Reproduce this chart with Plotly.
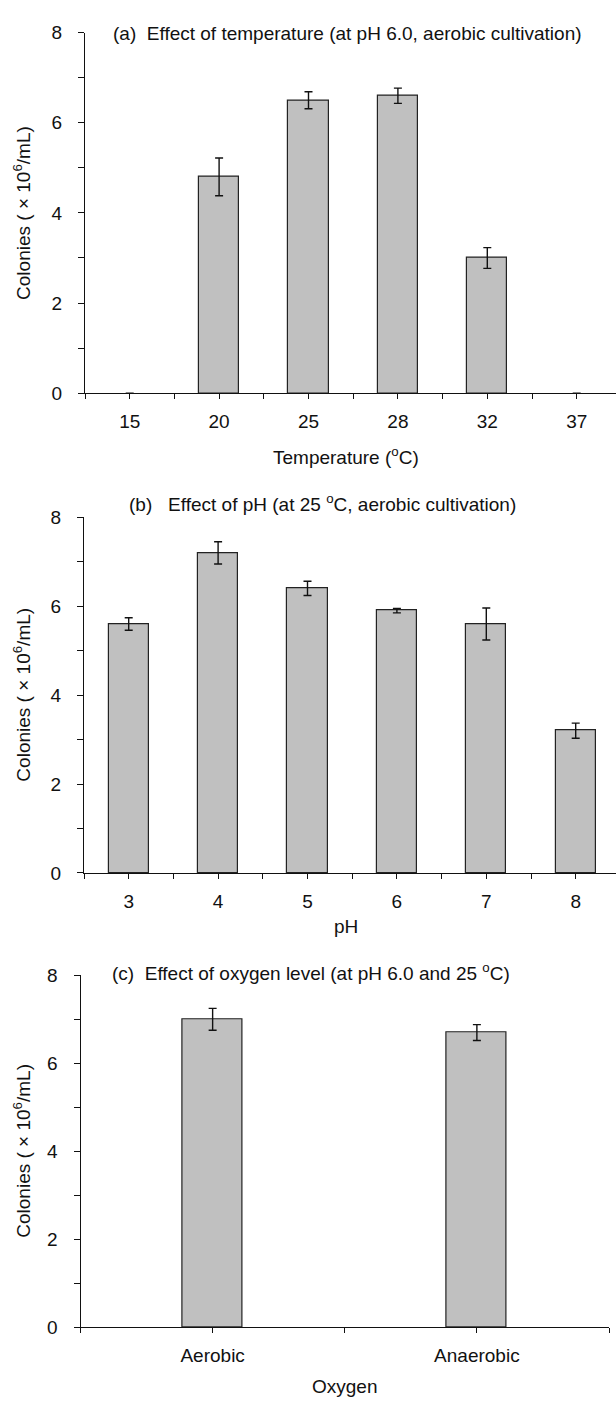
import plotly.graph_objects as go

# ---- data ----
temp_labels = ["15", "20", "25", "28", "32", "37"]
temp_values = [0, 4.8, 6.5, 6.6, 3.0, 0]
temp_errors = [0, 0.42, 0.19, 0.17, 0.23, 0]

ph_labels = ["3", "4", "5", "6", "7", "8"]
ph_values = [5.6, 7.2, 6.4, 5.9, 5.6, 3.2]
ph_errors = [0.14, 0.25, 0.16, 0.05, 0.36, 0.17]

oxy_labels = ["Aerobic", "Anaerobic"]
oxy_values = [7.0, 6.7]
oxy_errors = [0.25, 0.18]

y_ticks = [0, 1, 2, 3, 4, 5, 6, 7, 8]

W, H = 616, 1407
FONT = "Liberation Sans, Arial, sans-serif"
TICK_SIZE = 19
TITLE_SIZE = 19

# panel geometry in pixels: (x_left, x_right, y_zero, y_top, xmax)
panels = [
    dict(x0=85, x1=616, yb=389, yt=23, xmax=(616 - 85) / 89.4, bw=0.45),
    dict(x0=84, x1=616, yb=876, yt=515, xmax=(616 - 84) / 89.4, bw=0.45),
    dict(x0=80.5, x1=609, yb=1337, yt=980, xmax=2.0, bw=0.227),
]

series = [
    (temp_labels, temp_values, temp_errors),
    (ph_labels, ph_values, ph_errors),
    (oxy_labels, oxy_values, oxy_errors),
]

fig = go.Figure()
layout = dict(
    width=W, height=H,
    margin=dict(l=0, r=0, t=0, b=0),
    paper_bgcolor="white", plot_bgcolor="white",
    showlegend=False,
    font=dict(family=FONT, size=TICK_SIZE, color="#111111"),
    bargap=0,
)

for i, (p, (labels, vals, errs)) in enumerate(zip(panels, series)):
    n = i + 1
    xa = "x" if n == 1 else f"x{n}"
    ya = "y" if n == 1 else f"y{n}"
    centers = [k + 0.5 for k in range(len(labels))]
    # no outline on empty (zero) bars
    outline = [1.2 if v > 0 else 0 for v in vals]
    fig.add_trace(go.Bar(
        x=centers, y=vals, width=p["bw"],
        marker=dict(color="#C0C0C0", line=dict(color="#222222", width=outline)),
        error_y=dict(type="data", array=errs, visible=True,
                     color="#111111", thickness=1.4, width=4),
        xaxis=xa, yaxis=ya,
    ))
    # tick marks at category centres and boundaries; labels only at centres
    tv, tt = [], []
    for k in range(len(labels) + 1):
        tv.append(k)
        tt.append("")
        if k < len(labels):
            tv.append(k + 0.5)
            tt.append(labels[k])
    xkey = "xaxis" if n == 1 else f"xaxis{n}"
    ykey = "yaxis" if n == 1 else f"yaxis{n}"
    layout[xkey] = dict(
        domain=[p["x0"] / W, p["x1"] / W],
        range=[0, p["xmax"]], anchor=ya,
        tickmode="array", tickvals=tv, ticktext=tt,
        ticks="outside", ticklen=5, tickwidth=1, tickcolor="#111111",
        showline=True, linecolor="#111111", linewidth=1,
        showgrid=False, zeroline=False, ticklabelstandoff=6,
        tickfont=dict(size=TICK_SIZE),
    )
    layout[ykey] = dict(
        domain=[1 - p["yb"] / H, 1 - p["yt"] / H],
        range=[0, 8], anchor=xa,
        tickmode="array", tickvals=y_ticks,
        ticktext=[str(v) if v % 2 == 0 else "" for v in y_ticks],
        ticks="outside", ticklen=6, tickwidth=1, tickcolor="#111111",
        showline=True, linecolor="#111111", linewidth=1,
        showgrid=False, zeroline=False, ticklabelstandoff=12,
        tickfont=dict(size=TICK_SIZE),
    )

fig.update_layout(**layout)

def ann(text, x, y, angle=0, size=TITLE_SIZE):
    fig.add_annotation(text=text, x=x / W, y=1 - y / H, xref="paper", yref="paper",
                       xanchor="center", yanchor="middle", showarrow=False,
                       textangle=angle, font=dict(size=size, family=FONT, color="#111111"))

# panel titles
ann("(a)  Effect of temperature (at pH 6.0, aerobic cultivation)", 347, 24)
ann("(b)   Effect of pH (at 25 <sup>o</sup>C, aerobic cultivation)", 322, 500)
ann("(c)  Effect of oxygen level (at pH 6.0 and 25 <sup>o</sup>C)", 311, 977)

# axis titles
ann("Temperature (<sup>o</sup>C)", 346, 453)
ann("pH", 346, 930)
ann("Oxygen", 344, 1397)
ytitle = "Colonies ( \u00d7 10<sup>6</sup>/mL)"
ann(ytitle, 22, 206, angle=-90)
ann(ytitle, 22, 695, angle=-90)
ann(ytitle, 22, 1158, angle=-90)

fig.write_html("out.html")
